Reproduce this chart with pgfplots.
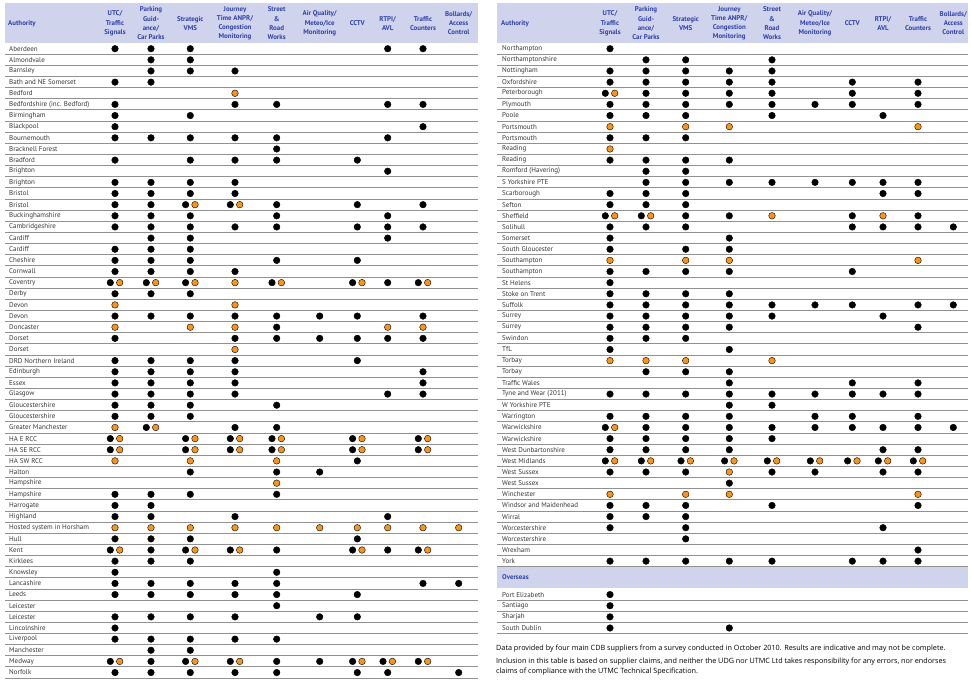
\documentclass[border=0pt]{standalone}
\usepackage{pgfplots}
\usepackage{pgfplotstable}
\pgfplotsset{compat=1.18}
\usepackage{fontspec}
\setmainfont{PT Sans}
\newfontfamily\notefam{Open Sans}
\definecolor{hdrbg}{RGB}{208,211,236}
\definecolor{hdrtxt}{RGB}{48,66,168}
\definecolor{dotorange}{RGB}{247,148,30}
\definecolor{rowline}{RGB}{145,145,145}
\definecolor{nametxt}{RGB}{55,55,55}
\newcommand{\hdrfont}{\fontsize{6.9}{9.2}\selectfont\bfseries}
\newcommand{\namefont}{\fontsize{7.0}{8}\selectfont}
\newcommand{\notefont}{\notefam\fontsize{7.25}{8}\selectfont}
\newcommand{\rowy}{48.7+11.14*\thisrow{row}}

% codes: 0 = none, 1 = black dot, 2 = orange dot, 3 = black + orange
\pgfplotstableread[col sep=comma,row sep=\\]{
row,name,utc,park,vms,jt,srw,aq,cctv,rtpi,tc,bol\\
0,Aberdeen,1,1,1,0,0,0,0,1,1,0\\
1,Almondvale,0,1,1,0,0,0,0,0,0,0\\
2,Barnsley,0,1,1,1,0,0,0,0,0,0\\
3,Bath and NE Somerset,1,1,0,0,0,0,0,0,0,0\\
4,Bedford,0,0,0,2,0,0,0,0,0,0\\
5,Bedfordshire (inc. Bedford),1,0,0,1,1,0,0,1,1,0\\
6,Birmingham,1,0,1,0,0,0,0,0,0,0\\
7,Blackpool,1,0,0,0,0,0,0,0,1,0\\
8,Bournemouth,1,1,1,1,1,0,0,1,0,0\\
9,Bracknell Forest,0,0,0,0,1,0,0,0,0,0\\
10,Bradford,1,0,1,1,1,0,1,0,0,0\\
11,Brighton,0,0,0,0,0,0,0,1,0,0\\
12,Brighton,1,1,1,1,0,0,0,0,0,0\\
13,Bristol,1,1,1,1,0,0,0,0,0,0\\
14,Bristol,1,1,3,3,1,0,1,0,1,0\\
15,Buckinghamshire,1,1,1,0,1,0,0,1,0,0\\
16,Cambridgeshire,1,1,1,1,1,0,1,1,1,0\\
17,Cardiff,0,1,1,0,0,0,0,1,0,0\\
18,Cardiff,1,1,1,0,0,0,0,0,0,0\\
19,Cheshire,1,1,1,0,1,0,1,0,0,0\\
20,Cornwall,1,1,1,1,0,0,0,0,0,0\\
21,Coventry,3,3,3,2,3,0,3,1,3,0\\
22,Derby,1,1,1,0,0,0,0,0,0,0\\
23,Devon,2,0,0,2,0,0,0,0,0,0\\
24,Devon,1,1,1,1,1,1,1,0,1,0\\
25,Doncaster,2,0,2,2,1,0,0,2,2,0\\
26,Dorset,1,0,0,1,1,1,1,1,1,0\\
27,Dorset,0,0,0,2,0,0,0,0,0,0\\
28,DRD Northern Ireland,1,1,1,1,0,0,1,0,0,0\\
29,Edinburgh,1,1,1,1,0,0,0,0,1,0\\
30,Essex,1,1,1,1,0,0,0,0,1,0\\
31,Glasgow,1,1,1,1,0,0,0,1,1,0\\
32,Gloucestershire,1,1,1,0,1,0,0,0,0,0\\
33,Gloucestershire,1,1,1,0,0,0,0,0,0,0\\
34,Greater Manchester,2,3,0,1,1,0,0,0,0,0\\
35,HA E RCC,3,0,3,3,3,0,3,0,3,0\\
36,HA SE RCC,3,0,3,3,3,0,3,0,3,0\\
37,HA SW RCC,2,0,2,0,2,0,1,0,0,0\\
38,Halton,0,0,1,0,1,1,0,0,0,0\\
39,Hampshire,0,0,0,0,2,0,0,0,0,0\\
40,Hampshire,1,1,1,0,1,0,0,0,0,0\\
41,Harrogate,1,1,0,0,0,0,0,0,0,0\\
42,Highland,1,1,0,1,0,0,0,1,0,0\\
43,Hosted system in Horsham,2,2,2,2,2,2,2,2,2,2\\
44,Hull,1,1,1,0,0,0,1,0,0,0\\
45,Kent,3,1,3,3,1,0,3,1,3,0\\
46,Kirklees,1,1,1,0,0,0,0,0,0,0\\
47,Knowsley,1,0,0,0,1,0,0,0,0,0\\
48,Lancashire,1,1,1,1,1,0,0,0,1,1\\
49,Leeds,1,1,1,1,1,0,1,0,0,0\\
50,Leicester,0,0,0,0,1,0,0,0,0,0\\
51,Leicester,1,1,1,1,0,1,1,0,0,0\\
52,Lincolnshire,1,0,0,0,0,0,0,0,0,0\\
53,Liverpool,1,1,1,1,1,0,0,0,0,0\\
54,Manchester,0,1,1,0,0,0,0,0,0,0\\
55,Medway,3,1,3,3,1,1,3,3,3,0\\
56,Norfolk,1,1,1,1,1,0,1,1,0,1\\
}\lefttab

\pgfplotstableread[col sep=comma,row sep=\\]{
row,name,utc,park,vms,jt,srw,aq,cctv,rtpi,tc,bol\\
0,Northampton,1,0,0,0,0,0,0,0,0,0\\
1,Northamptonshire,0,1,1,0,1,0,0,0,0,0\\
2,Nottingham,1,1,1,1,1,0,0,0,0,0\\
3,Oxfordshire,1,1,1,1,1,0,1,0,1,0\\
4,Peterborough,3,1,1,1,1,0,1,0,1,0\\
5,Plymouth,1,1,1,1,1,1,1,0,1,0\\
6,Poole,1,1,1,0,1,0,0,1,0,0\\
7,Portsmouth,2,0,2,2,0,0,0,0,2,0\\
8,Portsmouth,1,1,1,0,0,0,0,0,0,0\\
9,Reading,2,0,0,0,0,0,0,0,0,0\\
10,Reading,1,1,1,1,0,0,0,0,0,0\\
11,Romford (Havering),0,1,1,0,0,0,0,0,0,0\\
12,S Yorkshire PTE,0,1,1,1,1,1,1,1,1,0\\
13,Scarborough,1,1,1,0,0,0,0,1,1,0\\
14,Sefton,1,1,1,0,0,0,0,0,0,0\\
15,Sheffield,3,3,1,1,2,0,1,2,1,0\\
16,Solihull,1,1,1,0,0,0,1,1,1,1\\
17,Somerset,1,0,0,1,0,0,0,0,0,0\\
18,South Gloucester,1,0,1,1,0,0,0,0,0,0\\
19,Southampton,2,0,2,2,0,0,0,0,2,0\\
20,Southampton,1,1,1,1,0,0,1,0,0,0\\
21,St Helens,1,0,0,0,0,0,0,0,0,0\\
22,Stoke on Trent,1,1,1,1,0,0,0,0,0,0\\
23,Suffolk,1,1,1,1,1,1,1,0,1,1\\
24,Surrey,1,1,1,1,1,0,0,1,0,0\\
25,Surrey,1,1,1,1,0,0,0,0,1,0\\
26,Swindon,1,1,1,0,0,0,0,0,0,0\\
27,TfL,1,0,0,1,0,0,0,0,0,0\\
28,Torbay,2,2,2,0,2,0,0,0,0,0\\
29,Torbay,0,1,1,1,0,0,0,0,0,0\\
30,Traffic Wales,0,0,0,1,0,0,1,0,1,0\\
31,Tyne and Wear (2011),1,1,1,1,1,1,1,1,1,0\\
32,W Yorkshire PTE,0,0,0,1,1,0,0,0,0,0\\
33,Warrington,1,1,1,1,0,1,1,0,1,0\\
34,Warwickshire,3,1,1,1,1,1,1,1,1,1\\
35,Warwickshire,1,1,1,1,1,0,0,0,0,0\\
36,West Dunbartonshire,1,1,1,1,0,0,0,1,1,0\\
37,West Midlands,3,3,3,3,3,3,3,3,3,0\\
38,West Sussex,1,1,1,2,1,1,0,1,1,0\\
39,West Sussex,0,0,0,1,0,0,0,0,0,0\\
40,Winchester,2,0,2,2,0,0,0,0,2,0\\
41,Windsor and Maidenhead,1,1,1,0,1,0,0,0,1,0\\
42,Wirral,1,1,1,0,0,0,0,0,0,0\\
43,Worcestershire,1,0,1,0,0,0,0,1,0,0\\
44,Worcestershire,0,0,1,0,0,0,0,0,0,0\\
45,Wrexham,0,0,0,0,0,0,0,0,1,0\\
46,York,1,1,1,1,1,0,1,1,1,0\\
49,Port Elizabeth,1,0,0,0,0,0,0,0,0,0\\
50,Santiago,1,0,0,0,0,0,0,0,0,0\\
51,Sharjah,1,0,0,0,0,0,0,0,0,0\\
52,South Dublin,1,0,0,1,0,0,0,0,0,0\\
}\righttab

% #1 table, #2 column, #3 x position of the column centre
\newcommand{\dotcol}[3]{%
  \addplot[only marks, mark=*, mark size=3.3pt, mark options={draw=none, fill=black},
    restrict expr to domain={\thisrow{#2}}{0.5:1.5}]
    table[x expr=#3, y expr=\rowy] {#1};
  \addplot[only marks, mark=*, mark size=3.3pt, mark options={draw=none, fill=dotorange},
    restrict expr to domain={\thisrow{#2}}{1.5:2.5}]
    table[x expr=#3, y expr=\rowy] {#1};
  \addplot[only marks, mark=*, mark size=3.3pt, mark options={draw=none, fill=black},
    restrict expr to domain={\thisrow{#2}}{2.5:3.5}]
    table[x expr=#3-4.7, y expr=\rowy] {#1};
  \addplot[only marks, mark=*, mark size=3.3pt, mark options={draw=none, fill=dotorange},
    restrict expr to domain={\thisrow{#2}}{2.5:3.5}]
    table[x expr=#3+4.7, y expr=\rowy] {#1};
}
\newcommand{\names}[2]{%
  \addplot[only marks, mark=*, mark size=0.1pt, mark options={draw=white, fill=white},
    nodes near coords={\pgfplotspointmeta},
    point meta=explicit symbolic,
    every node near coord/.style={anchor=west, inner sep=0pt, font=\namefont, text=nametxt}]
    table[x expr=#2, y expr=\rowy, meta=name] {#1};
}
\newcommand{\hdr}[2]{\node[align=center, font=\hdrfont, text=hdrtxt, inner sep=0pt] at (axis cs:#1,23.3) {#2};}

\begin{document}
\begin{tikzpicture}
\begin{axis}[scale only axis, width=971pt, height=683pt,
  xmin=0, xmax=971, ymin=0, ymax=683, y dir=reverse,
  hide axis, clip=false]
  \fill[white] (axis cs:0,0) rectangle (axis cs:971,683);
  % header bands
  \fill[hdrbg] (axis cs:5,3) rectangle (axis cs:478,43);
  \fill[hdrbg] (axis cs:497,3) rectangle (axis cs:968,43);
  \fill[hdrbg] (axis cs:497,566.7) rectangle (axis cs:968,588.3);
  % row separators
  \pgfplotsinvokeforeach{0,...,56}{
    \draw[rowline, line width=1pt] (axis cs:5,{54.27+11.14*#1}) -- (axis cs:478,{54.27+11.14*#1});
  }
  \pgfplotsinvokeforeach{0,...,46,49,50,51,52}{
    \draw[rowline, line width=1pt] (axis cs:497,{54.27+11.14*#1}) -- (axis cs:968,{54.27+11.14*#1});
  }
  % headers left
  \node[anchor=west, font=\hdrfont, text=hdrtxt, inner sep=0pt] at (axis cs:8,23.3) {Authority};
  \hdr{115}{UTC/\\Traffic\\Signals}
  \hdr{151}{Parking\\Guid-\\ance/\\Car Parks}
  \hdr{190.3}{Strategic\\VMS}
  \hdr{235}{Journey\\Time ANPR/\\Congestion\\Monitoring}
  \hdr{276.7}{Street\\\&\\Road\\Works}
  \hdr{319.7}{Air Quality/\\Meteo/Ice\\Monitoring}
  \hdr{357.3}{CCTV}
  \hdr{387.7}{RTPI/\\AVL}
  \hdr{423}{Traffic\\Counters}
  \hdr{458.7}{Bollards/\\Access\\Control}
  % headers right
  \node[anchor=west, font=\hdrfont, text=hdrtxt, inner sep=0pt] at (axis cs:501,23.3) {Authority};
  \hdr{610}{UTC/\\Traffic\\Signals}
  \hdr{646}{Parking\\Guid-\\ance/\\Car Parks}
  \hdr{685.7}{Strategic\\VMS}
  \hdr{729.3}{Journey\\Time ANPR/\\Congestion\\Monitoring}
  \hdr{772}{Street\\\&\\Road\\Works}
  \hdr{815}{Air Quality/\\Meteo/Ice\\Monitoring}
  \hdr{852.3}{CCTV}
  \hdr{883}{RTPI/\\AVL}
  \hdr{918}{Traffic\\Counters}
  \hdr{953.3}{Bollards/\\Access\\Control}
  \node[anchor=west, font=\hdrfont, text=hdrtxt, inner sep=0pt] at (axis cs:502,577.5) {Overseas};
  % names
  \names{\lefttab}{9}
  \names{\righttab}{502}
  % dots left
  \dotcol{\lefttab}{utc}{115}
  \dotcol{\lefttab}{park}{151}
  \dotcol{\lefttab}{vms}{190.3}
  \dotcol{\lefttab}{jt}{235}
  \dotcol{\lefttab}{srw}{276.7}
  \dotcol{\lefttab}{aq}{319.7}
  \dotcol{\lefttab}{cctv}{357.3}
  \dotcol{\lefttab}{rtpi}{387.7}
  \dotcol{\lefttab}{tc}{423}
  \dotcol{\lefttab}{bol}{458.7}
  % dots right
  \dotcol{\righttab}{utc}{610}
  \dotcol{\righttab}{park}{646}
  \dotcol{\righttab}{vms}{685.7}
  \dotcol{\righttab}{jt}{729.3}
  \dotcol{\righttab}{srw}{772}
  \dotcol{\righttab}{aq}{815}
  \dotcol{\righttab}{cctv}{852.3}
  \dotcol{\righttab}{rtpi}{883}
  \dotcol{\righttab}{tc}{918}
  \dotcol{\righttab}{bol}{953.3}
  % notes
  \node[anchor=west, font=\notefont, inner sep=0pt] at (axis cs:496,649) {Data provided by four main CDB suppliers from a survey conducted in October 2010. Results are indicative and may not be complete.};
  \node[anchor=west, font=\notefont, inner sep=0pt] at (axis cs:496,662) {Inclusion in this table is based on supplier claims, and neither the UDG nor UTMC Ltd takes responsibility for any errors, nor endorses};
  \node[anchor=west, font=\notefont, inner sep=0pt] at (axis cs:496,672) {claims of compliance with the UTMC Technical Specification.};
\end{axis}
\end{tikzpicture}
\end{document}
